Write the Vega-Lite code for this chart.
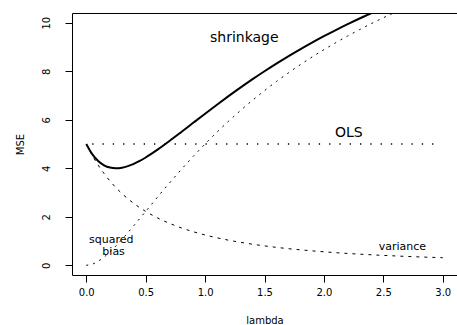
{
  "$schema": "https://vega.github.io/schema/vega-lite/v6.json",
  "autosize": "none",
  "width": 385,
  "height": 262,
  "padding": {"left": 72, "top": 13, "right": 0, "bottom": 50},
  "config": {
    "view": {"stroke": "black", "strokeWidth": 1},
    "font": "DejaVu Sans",
    "axis": {"grid": false, "domain": false, "tickColor": "black", "tickSize": 7, "labelColor": "black", "titleColor": "black", "labelFont": "DejaVu Sans", "titleFont": "DejaVu Sans", "titleFontWeight": "normal"}
  },
  "datasets": {
    "shrinkage": [
      {"lambda": 0, "mse": 5},
      {"lambda": 0.05, "mse": 4.58},
      {"lambda": 0.1, "mse": 4.298},
      {"lambda": 0.15, "mse": 4.121},
      {"lambda": 0.2, "mse": 4.028},
      {"lambda": 0.25, "mse": 4.0},
      {"lambda": 0.3, "mse": 4.024},
      {"lambda": 0.35, "mse": 4.088},
      {"lambda": 0.4, "mse": 4.184},
      {"lambda": 0.45, "mse": 4.304},
      {"lambda": 0.5, "mse": 4.444},
      {"lambda": 0.6, "mse": 4.766},
      {"lambda": 0.7, "mse": 5.121},
      {"lambda": 0.8, "mse": 5.494},
      {"lambda": 0.9, "mse": 5.873},
      {"lambda": 1.0, "mse": 6.25},
      {"lambda": 1.1, "mse": 6.621},
      {"lambda": 1.2, "mse": 6.983},
      {"lambda": 1.3, "mse": 7.335},
      {"lambda": 1.4, "mse": 7.674},
      {"lambda": 1.5, "mse": 8.0},
      {"lambda": 1.6, "mse": 8.314},
      {"lambda": 1.7, "mse": 8.615},
      {"lambda": 1.8, "mse": 8.903},
      {"lambda": 1.9, "mse": 9.18},
      {"lambda": 2.0, "mse": 9.444},
      {"lambda": 2.1, "mse": 9.698},
      {"lambda": 2.2, "mse": 9.941},
      {"lambda": 2.3, "mse": 10.174},
      {"lambda": 2.4, "mse": 10.398},
      {"lambda": 2.5, "mse": 10.612},
      {"lambda": 2.6, "mse": 10.818}
    ],
    "bias": [
      {"lambda": 0, "mse": 0},
      {"lambda": 0.05, "mse": 0.045},
      {"lambda": 0.1, "mse": 0.165},
      {"lambda": 0.15, "mse": 0.34},
      {"lambda": 0.2, "mse": 0.556},
      {"lambda": 0.25, "mse": 0.8},
      {"lambda": 0.3, "mse": 1.065},
      {"lambda": 0.4, "mse": 1.633},
      {"lambda": 0.5, "mse": 2.222},
      {"lambda": 0.6, "mse": 2.813},
      {"lambda": 0.7, "mse": 3.391},
      {"lambda": 0.8, "mse": 3.951},
      {"lambda": 0.9, "mse": 4.488},
      {"lambda": 1.0, "mse": 5.0},
      {"lambda": 1.1, "mse": 5.488},
      {"lambda": 1.2, "mse": 5.95},
      {"lambda": 1.3, "mse": 6.389},
      {"lambda": 1.4, "mse": 6.806},
      {"lambda": 1.5, "mse": 7.2},
      {"lambda": 1.6, "mse": 7.574},
      {"lambda": 1.7, "mse": 7.929},
      {"lambda": 1.8, "mse": 8.265},
      {"lambda": 1.9, "mse": 8.585},
      {"lambda": 2.0, "mse": 8.889},
      {"lambda": 2.1, "mse": 9.178},
      {"lambda": 2.2, "mse": 9.453},
      {"lambda": 2.3, "mse": 9.715},
      {"lambda": 2.4, "mse": 9.965},
      {"lambda": 2.5, "mse": 10.204},
      {"lambda": 2.6, "mse": 10.432},
      {"lambda": 2.7, "mse": 10.65}
    ],
    "variance": [
      {"lambda": 0, "mse": 5},
      {"lambda": 0.05, "mse": 4.535},
      {"lambda": 0.1, "mse": 4.132},
      {"lambda": 0.15, "mse": 3.781},
      {"lambda": 0.2, "mse": 3.472},
      {"lambda": 0.25, "mse": 3.2},
      {"lambda": 0.3, "mse": 2.959},
      {"lambda": 0.4, "mse": 2.551},
      {"lambda": 0.5, "mse": 2.222},
      {"lambda": 0.6, "mse": 1.953},
      {"lambda": 0.7, "mse": 1.73},
      {"lambda": 0.8, "mse": 1.543},
      {"lambda": 0.9, "mse": 1.385},
      {"lambda": 1.0, "mse": 1.25},
      {"lambda": 1.1, "mse": 1.134},
      {"lambda": 1.2, "mse": 1.033},
      {"lambda": 1.3, "mse": 0.945},
      {"lambda": 1.4, "mse": 0.868},
      {"lambda": 1.5, "mse": 0.8},
      {"lambda": 1.6, "mse": 0.74},
      {"lambda": 1.7, "mse": 0.686},
      {"lambda": 1.8, "mse": 0.638},
      {"lambda": 1.9, "mse": 0.595},
      {"lambda": 2.0, "mse": 0.556},
      {"lambda": 2.1, "mse": 0.52},
      {"lambda": 2.2, "mse": 0.488},
      {"lambda": 2.3, "mse": 0.459},
      {"lambda": 2.4, "mse": 0.433},
      {"lambda": 2.5, "mse": 0.408},
      {"lambda": 2.6, "mse": 0.386},
      {"lambda": 2.7, "mse": 0.365},
      {"lambda": 2.8, "mse": 0.346},
      {"lambda": 2.9, "mse": 0.329},
      {"lambda": 3.0, "mse": 0.3125}
    ],
    "ols": [
      {"lambda": 0.05, "mse": 5},
      {"lambda": 2.95, "mse": 5}
    ],
    "labels": [
      {"lambda": 1.33, "mse": 9.36, "text": "shrinkage", "size": 14},
      {"lambda": 2.21, "mse": 5.44, "text": "OLS", "size": 14},
      {"lambda": 0.21, "mse": 1.03, "text": "squared", "size": 11},
      {"lambda": 0.23, "mse": 0.54, "text": "bias", "size": 11},
      {"lambda": 2.66, "mse": 0.74, "text": "variance", "size": 11}
    ]
  },
  "encoding": {
    "x": {"field": "lambda", "type": "quantitative",
      "scale": {"domain": [-0.12, 3.12], "nice": false, "zero": false},
      "axis": {"values": [0, 0.5, 1, 1.5, 2, 2.5, 3], "format": ".1f", "labelFontSize": 10, "labelPadding": 5, "title": "lambda", "titleFontSize": 10, "titleY": 48, "titleBaseline": "alphabetic"}},
    "y": {"field": "mse", "type": "quantitative",
      "scale": {"domain": [-0.4, 10.4], "nice": false, "zero": false},
      "axis": {"values": [0, 2, 4, 6, 8, 10], "labelAngle": -90, "labelAlign": "center", "labelBaseline": "alphabetic", "labelFontSize": 10, "labelPadding": 16, "title": "MSE", "titleFontSize": 10, "titleAngle": -90, "titleX": -49, "titleY": 131, "titleBaseline": "alphabetic", "titleAlign": "center"}}
  },
  "layer": [
    {"data": {"name": "ols"}, "mark": {"type": "line", "color": "black", "strokeWidth": 1.3, "strokeDash": [1.3, 9], "clip": true}},
    {"data": {"name": "variance"}, "mark": {"type": "line", "color": "black", "strokeWidth": 1, "strokeDash": [3, 5], "interpolate": "monotone", "clip": true}},
    {"data": {"name": "bias"}, "mark": {"type": "line", "color": "black", "strokeWidth": 1, "strokeDash": [2, 5], "interpolate": "monotone", "clip": true}},
    {"data": {"name": "shrinkage"}, "mark": {"type": "line", "color": "black", "strokeWidth": 2, "interpolate": "monotone", "clip": true}},
    {"data": {"name": "labels"}, "mark": {"type": "text", "color": "black", "font": "DejaVu Sans", "align": "center", "baseline": "middle"},
      "encoding": {"text": {"field": "text"}, "size": {"field": "size", "type": "quantitative", "scale": null}}}
  ]
}
